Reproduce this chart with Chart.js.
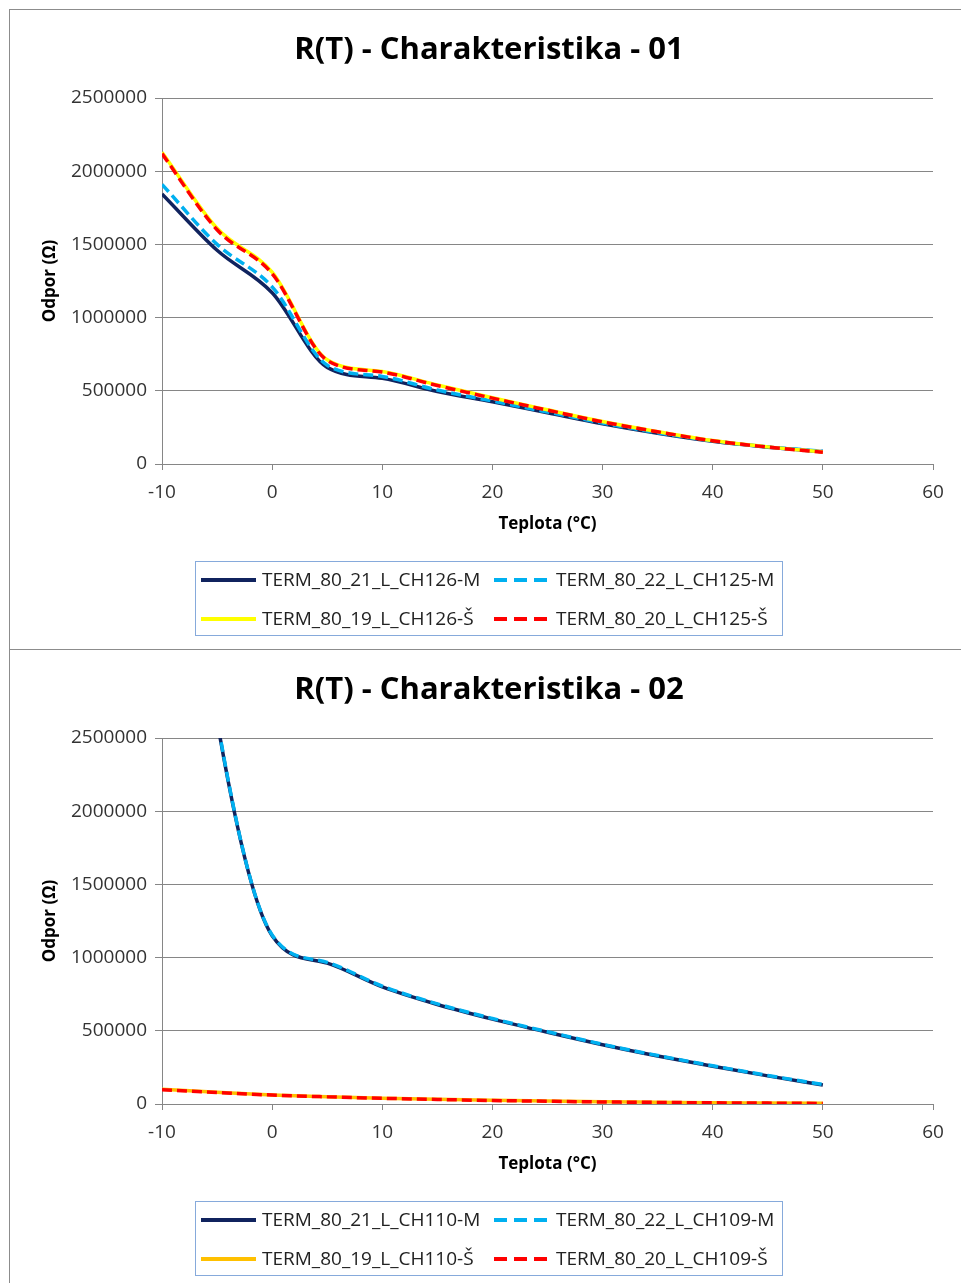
<!DOCTYPE html>
<html>
<head>
<meta charset="utf-8">
<script src="https://cdn.jsdelivr.net/npm/chart.js@4.4.0/dist/chart.umd.min.js"></script>
<style>
	body { margin: 0; overflow: hidden; background: #fff; }
	.box { position: absolute; left: 9px; width: 1000px; border: 1px solid #8c8c8c; background: #fff; }
	#box1 { top: 9px; height: 639px; }
	#box2 { top: 649px; height: 700px; }
	canvas { position: absolute; left: 0; top: 0; }
</style>
</head>
<body>
<div class="box" id="box1"><canvas id="chart1" width="958" height="639"></canvas></div>
<div class="box" id="box2"><canvas id="chart2" width="958" height="633"></canvas></div>

<script>
// teploty (°C)
var teploty = [-10, -5, 0, 5, 10, 15, 20, 25, 30, 35, 40, 45, 50];
var yTicks = [0, 500000, 1000000, 1500000, 2000000, 2500000];
var xTicks = [-10, 0, 10, 20, 30, 40, 50, 60];

// graf 01
var title01 = "R(T) - Charakteristika - 01";
var names01 = ["TERM_80_21_L_CH126-M", "TERM_80_22_L_CH125-M", "TERM_80_19_L_CH126-Š", "TERM_80_20_L_CH125-Š"];
var t21_ch126 = [1845000, 1460000, 1170000, 660000, 585000, 495000, 425000, 350000, 275000, 210000, 155000, 115000, 85000];
var t22_ch125 = [1910000, 1500000, 1210000, 675000, 598000, 505000, 430000, 355000, 280000, 214000, 158000, 117000, 87000];
var t19_ch126 = [2130000, 1610000, 1310000, 712000, 632000, 540000, 452000, 370000, 290000, 221000, 160000, 117000, 82000];
var t20_ch125 = [2120000, 1600000, 1300000, 708000, 628000, 536000, 450000, 368000, 288000, 220000, 159000, 116000, 80000];

// graf 02
var title02 = "R(T) - Charakteristika - 02";
var names02 = ["TERM_80_21_L_CH110-M", "TERM_80_22_L_CH109-M", "TERM_80_19_L_CH110-Š", "TERM_80_20_L_CH109-Š"];
var t21_ch110 = [5500000, 2620000, 1150000, 962000, 800000, 680000, 580000, 490000, 405000, 328000, 258000, 192000, 130000];
var t22_ch109 = [5520000, 2630000, 1155000, 967000, 805000, 684000, 584000, 494000, 408000, 331000, 261000, 195000, 133000];
var t19_ch110 = [100000, 80000, 62000, 50000, 40000, 32000, 25000, 20000, 15000, 12000, 9000, 7000, 5000];
var t20_ch109 = [98000, 79000, 61000, 49000, 39000, 31000, 24000, 19000, 14000, 11000, 8000, 6000, 4000];

var fontName = "'Open Sans', sans-serif";

function points(vals) {
	return teploty.map(function(t, i) { return { x: t, y: vals[i] }; });
}

function series(label, vals, color, dash, order) {
	return {
		label: label,
		data: points(vals),
		borderColor: color,
		backgroundColor: color,
		borderWidth: 3.5,
		borderDash: dash,
		pointRadius: 0,
		fill: false,
		cubicInterpolationMode: "monotone",
		order: order
	};
}

// nadpis uprostřed celého rámečku + legenda v rámečku, dva sloupce
var titleAndLegend = {
	id: "titleAndLegend",
	afterDraw: function(chart) {
		var ctx = chart.ctx;
		var ca = chart.chartArea;
		ctx.save();
		ctx.font = "bold 31px " + fontName;
		ctx.fillStyle = "#000";
		ctx.textAlign = "center";
		ctx.textBaseline = "middle";
		ctx.fillText(chart.options.chartTitle, chart.width / 2, 40);

		var x0 = ca.left + 33, y0 = ca.bottom + 97, w = 587, h = 74;
		ctx.strokeStyle = "#86aadb";
		ctx.lineWidth = 1;
		ctx.strokeRect(x0 + 0.5, y0 + 0.5, w, h);
		ctx.font = "19px " + fontName;
		ctx.textAlign = "left";
		ctx.fillStyle = "#222";
		var ds = chart.data.datasets;
		for (var i = 0; i < ds.length; i++) {
			var col = i % 2, row = Math.floor(i / 2);
			var lx = x0 + (col == 0 ? 6 : 299);
			var ly = y0 + (row == 0 ? 19 : 58);
			ctx.beginPath();
			ctx.setLineDash(ds[i].borderDash.length ? [13, 7] : []);
			ctx.strokeStyle = ds[i].borderColor;
			ctx.lineWidth = 4;
			ctx.moveTo(lx, ly);
			ctx.lineTo(lx + 55, ly);
			ctx.stroke();
			ctx.setLineDash([]);
			ctx.fillText(ds[i].label, lx + (col == 0 ? 61 : 62), ly + 1);
		}
		ctx.restore();
	}
};

function makeChart(id, title, datasets, bottomPad) {
	var ctx = document.getElementById(id);
	return new Chart(ctx, {
		type: "line",
		data: { datasets: datasets },
		options: {
			chartTitle: title,
			responsive: false,
			animation: false,
			layout: { padding: { left: 0, right: 35, top: 88, bottom: bottomPad } },
			plugins: {
				legend: { display: false },
				tooltip: { enabled: false },
				title: { display: false }
			},
			scales: {
				x: {
					type: "linear",
					min: -10,
					max: 60,
					afterBuildTicks: function(scale) {
						scale.ticks = xTicks.map(function(v) { return { value: v }; });
					},
					afterFit: function(scale) { scale.height = 75; },
					grid: { drawOnChartArea: false, color: "#868686", tickLength: 6 },
					border: { color: "#868686", width: 1 },
					ticks: { color: "#333", padding: 11, font: { family: fontName, size: 19 } },
					title: {
						display: true,
						text: "Teplota (°C)",
						color: "#000",
						font: { family: fontName, size: 17, weight: "bold" },
						padding: { top: 0, bottom: 5 }
					}
				},
				y: {
					min: 0,
					max: 2500000,
					afterBuildTicks: function(scale) {
						scale.ticks = yTicks.map(function(v) { return { value: v }; });
					},
					afterFit: function(scale) { scale.width = 152; },
					grid: { color: "#868686", tickLength: 7 },
					border: { color: "#868686", width: 1 },
					ticks: {
						color: "#333",
						padding: 8,
						font: { family: fontName, size: 19 },
						callback: function(v) { return String(v); }
					},
					title: {
						display: true,
						text: "Odpor (Ω)",
						color: "#000",
						font: { family: fontName, size: 17, weight: "bold" },
						padding: { top: 30, bottom: 0 }
					}
				}
			}
		},
		plugins: [titleAndLegend]
	});
}

makeChart("chart1", title01, [
	series(names01[0], t21_ch126, "#10235e", [], 3),
	series(names01[1], t22_ch125, "#00b0f0", [10, 5], 2),
	series(names01[2], t19_ch126, "#ffff00", [], 1),
	series(names01[3], t20_ch125, "#ff0000", [10, 5], 0)
], 110);

makeChart("chart2", title02, [
	series(names02[0], t21_ch110, "#10235e", [], 3),
	series(names02[1], t22_ch109, "#00b0f0", [10, 5], 2),
	series(names02[2], t19_ch110, "#ffc000", [], 1),
	series(names02[3], t20_ch109, "#ff0000", [10, 5], 0)
], 104);
</script>
</body>
</html>
